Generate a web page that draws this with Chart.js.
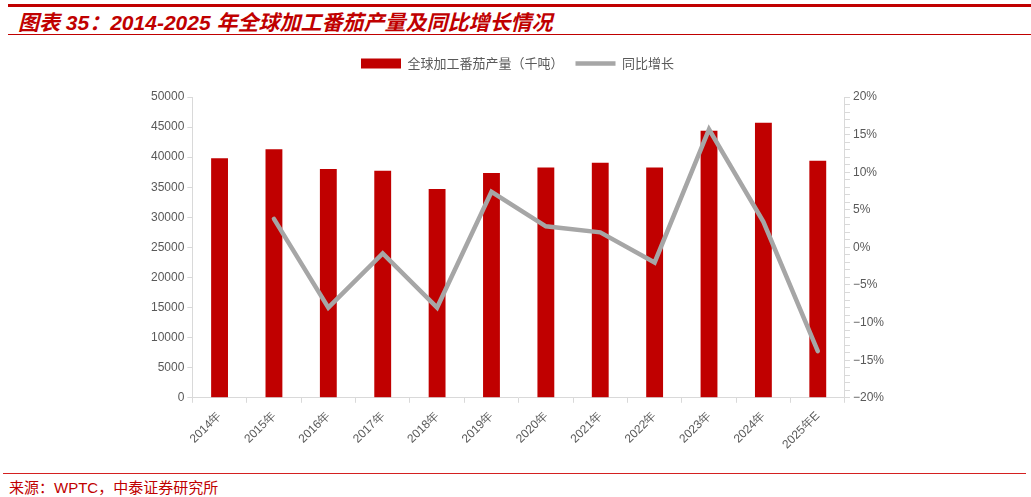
<!DOCTYPE html>
<html>
<head>
<meta charset="utf-8">
<script src="https://cdn.jsdelivr.net/npm/chart.js@4"></script>
<style>
  body { margin: 0; background: #fff; width: 1031px; height: 497px; position: relative; overflow: hidden; font-family: "Liberation Sans", Arial, sans-serif; }
  .topline { position: absolute; left: 8px; right: 0; top: 4px; height: 3px; background: #c00000; }
  .title { position: absolute; left: 18px; top: 6px; color: #c00000; font-size: 21px; font-weight: bold; font-style: italic; font-family: "Liberation Sans", "Noto Sans CJK SC", sans-serif; }
  .subline { position: absolute; left: 8px; right: 0; top: 34px; height: 1px; background: #c00000; }
  .footline { position: absolute; left: 3px; right: 5px; top: 473px; height: 1px; background: #d42020; }
  .source { position: absolute; left: 9px; top: 476px; color: #c00000; font-size: 15px; font-family: "Liberation Sans", "Noto Sans CJK SC", sans-serif; }
  #wrap { position: absolute; left: 0; top: 40px; width: 1031px; height: 430px; }
</style>
</head>
<body>
<div class="topline"></div>
<div class="title">图表 35：2014-2025 年全球加工番茄产量及同比增长情况</div>
<div class="subline"></div>
<div id="wrap"><canvas id="chart"></canvas></div>
<div class="footline"></div>
<div class="source">来源：WPTC，中泰证券研究所</div>
<script>
const years = ['2014年', '2015年', '2016年', '2017年', '2018年', '2019年', '2020年', '2021年', '2022年', '2023年', '2024年', '2025年E'];
const output = [39800, 41330, 38020, 37740, 34700, 37360, 38280, 39060, 38280, 44370, 45740, 39390];
const growth = [null, 3.8, -8.0, -0.8, -8.0, 7.4, 2.8, 2.0, -2.0, 15.7, 3.4, -13.8];
const leftTicks = [0, 5000, 10000, 15000, 20000, 25000, 30000, 35000, 40000, 45000, 50000];

const gray = '#595959';
const axisColor = '#d9d9d9';

// extra room between legend and plot
const legendGap = {
    id: 'legendGap',
    beforeInit(chart) {
        const fit = chart.legend.fit;
        chart.legend.fit = function () {
            fit.bind(chart.legend)();
            this.height += 17;
        };
    }
};

new Chart(document.getElementById('chart'), {
    data: {
        labels: years,
        datasets: [
            {
                type: 'line',
                label: '同比增长',
                data: growth,
                yAxisID: 'y1',
                borderColor: '#a6a6a6',
                backgroundColor: '#a6a6a6',
                borderWidth: 4.5,
                borderCapStyle: 'round',
                pointRadius: 0,
                tension: 0,
                order: 0
            },
            {
                type: 'bar',
                label: '全球加工番茄产量（千吨）',
                data: output,
                yAxisID: 'y',
                backgroundColor: '#c00000',
                barPercentage: 0.31,
                categoryPercentage: 1,
                order: 1
            }
        ]
    },
    plugins: [legendGap],
    options: {
        responsive: true,
        maintainAspectRatio: false,
        animation: false,
        layout: { padding: { left: 148, right: 144, top: 5, bottom: 12 } },
        plugins: {
            legend: {
                reverse: true,
                labels: {
                    usePointStyle: true,
                    pointStyleWidth: 40,
                    boxHeight: 10,
                    color: gray,
                    padding: 12,
                    font: { size: 13, family: '"Noto Sans CJK SC", sans-serif' },
                    generateLabels: (chart) => {
                        const items = Chart.defaults.plugins.legend.labels.generateLabels(chart);
                        items.forEach(it => {
                            if (it.datasetIndex === 0) { it.pointStyle = 'line'; it.lineWidth = 4.5; }
                            else { it.pointStyle = 'rect'; it.lineWidth = 0; }
                        });
                        return items;
                    }
                }
            },
            tooltip: { enabled: false }
        },
        scales: {
            x: {
                offset: true,
                grid: { display: true, drawOnChartArea: false, offset: true, color: axisColor, tickLength: 5 },
                border: { color: axisColor },
                ticks: { color: gray, minRotation: 45, maxRotation: 45, font: { size: 12 }, padding: 6 }
            },
            y: {
                position: 'left',
                min: 0,
                max: 50000,
                afterBuildTicks: (axis) => { axis.ticks = leftTicks.map(v => ({ value: v })); },
                grid: { drawOnChartArea: false, color: axisColor, tickLength: 5 },
                border: { color: axisColor },
                ticks: { color: gray, font: { size: 12 }, padding: 3, callback: (v) => String(v) }
            },
            y1: {
                position: 'right',
                min: -20,
                max: 20,
                grid: { drawOnChartArea: false, color: axisColor, tickLength: 5 },
                border: { color: axisColor },
                ticks: {
                    stepSize: 1,
                    autoSkip: false,
                    color: gray,
                    font: { size: 12 },
                    padding: 3,
                    callback: (v) => v % 5 === 0 ? String(v).replace('-', '\u2212') + '%' : ''
                }
            }
        }
    }
});
</script>
</body>
</html>
